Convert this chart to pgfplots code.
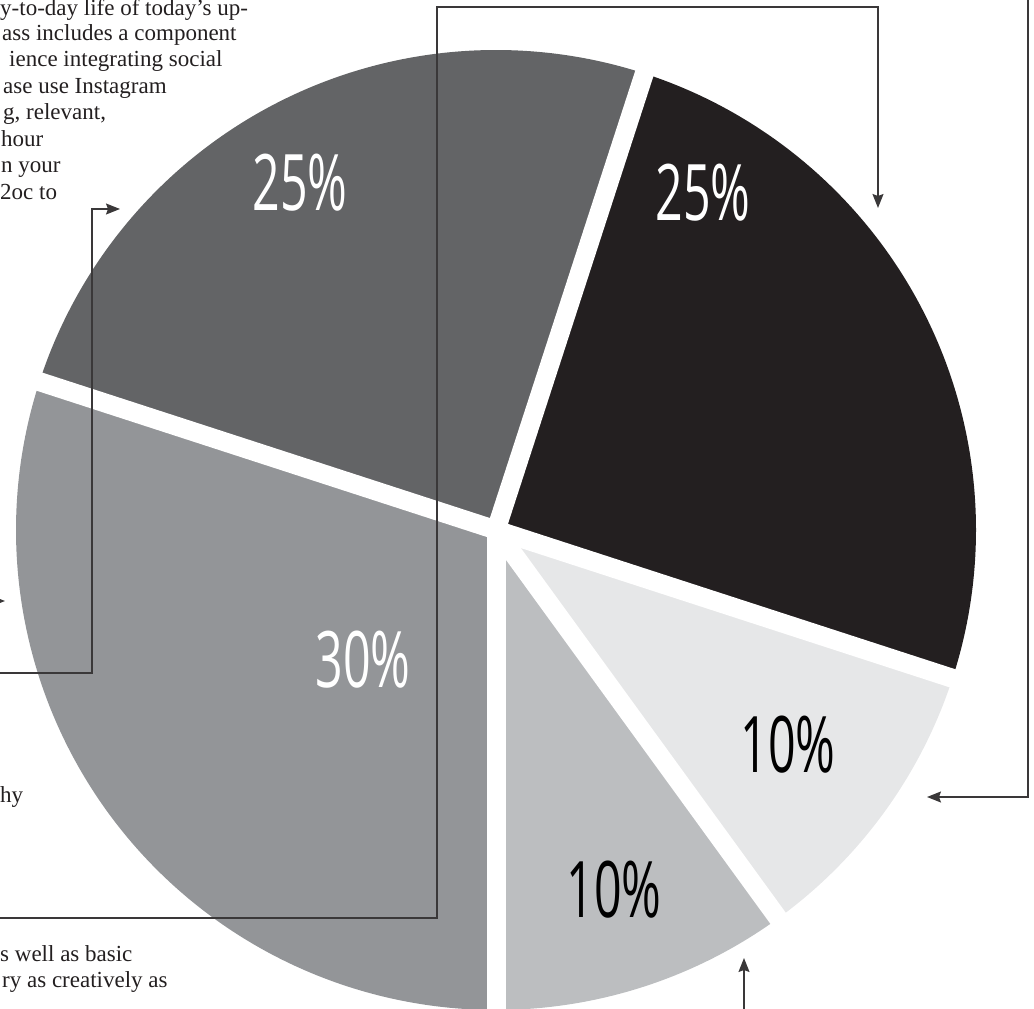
\documentclass[border=0pt]{standalone}
\usepackage{pgfplots}
\pgfplotsset{compat=1.18}
\usepackage{fontspec}
\usepackage{graphicx}
\usetikzlibrary{arrows.meta}
\setmainfont{Liberation Serif}
\newfontfamily\hand{Open Sans}
\definecolor{cblack}{HTML}{231F20}
\definecolor{cdark}{HTML}{636466}
\definecolor{cgray}{HTML}{939598}
\definecolor{cmid}{HTML}{BCBEC0}
\definecolor{clight}{HTML}{E6E7E8}
\definecolor{cline}{HTML}{3A3839}
\definecolor{ctext}{HTML}{231F20}
\begin{document}
\begin{tikzpicture}
\begin{axis}[name=ax, x=1pt, y=1pt, xmin=0, xmax=1034, ymin=0, ymax=1009,
  hide axis, scale only axis, clip=true]
\pgfplotsextra{
  % body text fragments
  \begin{scope}[every node/.style={anchor=base west, inner sep=0pt, text=ctext, font=\fontsize{23}{27}\selectfont}]
  \node at (axis cs:0,993) {y-to-day life of today’s up-};
  \node at (axis cs:2,968.5) {ass includes a component};
  \node at (axis cs:9,942) {ience integrating social};
  \node at (axis cs:3,915.5) {ase use Instagram};
  \node at (axis cs:3,889) {g, relevant,};
  \node at (axis cs:1,862.5) {hour};
  \node at (axis cs:1,836) {n your};
  \node at (axis cs:0,809.5) {2oc to};
  \node at (axis cs:0,206) {hy};
  \node at (axis cs:0,47) {s well as basic};
  \node at (axis cs:2,21) {ry as creatively as};
  \end{scope}
  % pie slices (percent values), clockwise from 72 degrees
  \gdef\startang{72}
  \foreach \v/\c in {25/cblack,10/clight,10/cmid,30/cgray,25/cdark}{
    \pgfmathsetmacro\endang{\startang-3.6*\v}
    \fill[\c] (axis cs:496,479) -- ++(\startang:480pt)
      arc[start angle=\startang, end angle=\endang, radius=480pt] -- cycle;
    \global\let\startang\endang
  }
  % white gaps
  \gdef\startang{72}
  \foreach \v in {25,10,10,30,25}{
    \draw[white, line width=19pt] (axis cs:496,479) -- ++(\startang:520pt);
    \pgfmathsetmacro\endang{\startang-3.6*\v}
    \global\let\startang\endang
  }
  \fill[white] (axis cs:496,479) circle[radius=9.5pt];
  % percent labels
  \node[text=white] at (axis cs:300,826) {\scalebox{0.62}[1]{\hand\fontsize{78}{78}\selectfont 25\%}};
  \node[text=white] at (axis cs:703,816) {\scalebox{0.62}[1]{\hand\fontsize{78}{78}\selectfont 25\%}};
  \node[text=white] at (axis cs:363,349) {\scalebox{0.62}[1]{\hand\fontsize{78}{78}\selectfont 30\%}};
  \node[text=black] at (axis cs:788,264) {\scalebox{0.62}[1]{\hand\fontsize{78}{78}\selectfont 10\%}};
  \node[text=black] at (axis cs:614,119) {\scalebox{0.62}[1]{\hand\fontsize{78}{78}\selectfont 10\%}};
  % connector lines
  \begin{scope}[cline, line width=1.4pt, arrows={-{Stealth[length=14pt, width=11pt, inset=2pt]}}]
  \draw (axis cs:-5,91) -- (axis cs:437,91) -- (axis cs:437,1002) -- (axis cs:878,1002) -- (axis cs:878,801);
  \draw (axis cs:-5,336) -- (axis cs:92,336) -- (axis cs:92,800) -- (axis cs:120,800);
  \draw (axis cs:-20,408) -- (axis cs:5,408);
  \draw (axis cs:1028,1015) -- (axis cs:1028,212) -- (axis cs:927,212);
  \draw (axis cs:744,-5) -- (axis cs:744,51);
  \end{scope}
}
\end{axis}
\pgfresetboundingbox
\path (ax.south west) rectangle (ax.north east);
\end{tikzpicture}
\end{document}
